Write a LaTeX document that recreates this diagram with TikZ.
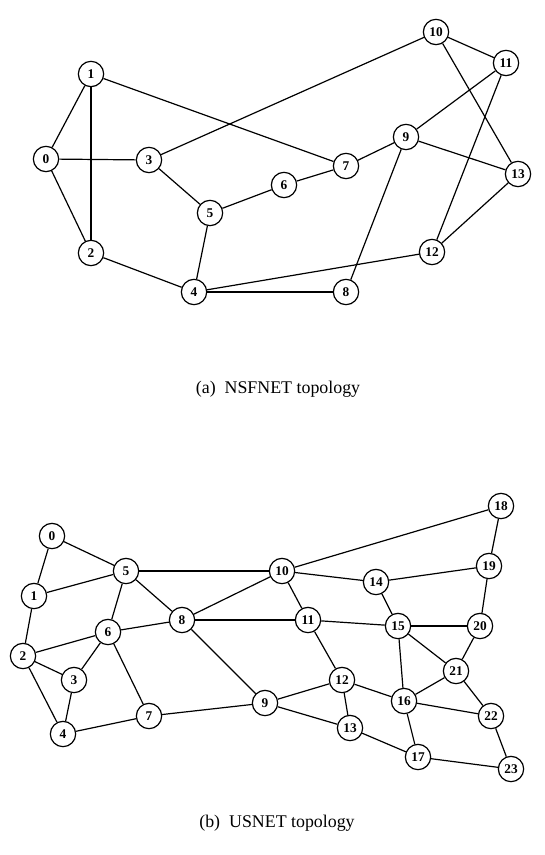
\documentclass[tikz,border=0pt]{standalone}
\usepackage{fontspec}
\setmainfont{Liberation Serif}
\begin{document}
\begin{tikzpicture}[x=0.75pt,y=-0.75pt,
  nd/.style={circle,draw,line width=0.9pt,minimum size=19pt,inner sep=0pt,font=\fontsize{10}{10}\selectfont\bfseries,fill=white},
  lk/.style={line width=0.9pt},
  captxt/.style={font=\fontsize{13.4}{13.4}\selectfont}]
\useasboundingbox (0,0) rectangle (545,855);
% NSFNET
\node[nd] (a0) at (46,159) {0};
\node[nd] (a1) at (91,74) {1};
\node[nd] (a2) at (91,253) {2};
\node[nd] (a3) at (149,160) {3};
\node[nd] (a4) at (194,292) {4};
\node[nd] (a5) at (210,213) {5};
\node[nd] (a6) at (284,185) {6};
\node[nd] (a7) at (346,166) {7};
\node[nd] (a8) at (346,292) {8};
\node[nd] (a9) at (406,137) {9};
\node[nd] (a10) at (436,32) {10};
\node[nd] (a11) at (506,63) {11};
\node[nd] (a12) at (432,252) {12};
\node[nd] (a13) at (518,174) {13};
\foreach \u/\v in {a0/a1,a0/a2,a0/a3,a1/a2,a1/a7,a2/a4,a3/a5,a3/a10,a4/a5,a4/a8,a4/a12,a5/a6,a6/a7,a7/a9,a9/a8,a9/a11,a9/a13,a10/a11,a10/a13,a11/a12,a12/a13}
  \draw[lk] (\u) -- (\v);
\node[captxt] (capa) at (278,389) {(a)\hspace{0.5em}NSFNET topology};
% USNET
\node[nd] (b0) at (52,536) {0};
\node[nd] (b1) at (34,596) {1};
\node[nd] (b2) at (23,656) {2};
\node[nd] (b3) at (74,680) {3};
\node[nd] (b4) at (63,734) {4};
\node[nd] (b5) at (126,571) {5};
\node[nd] (b6) at (108,632) {6};
\node[nd] (b7) at (149,716) {7};
\node[nd] (b8) at (182,620) {8};
\node[nd] (b9) at (265,703) {9};
\node[nd] (b10) at (282,571) {10};
\node[nd] (b11) at (308,620) {11};
\node[nd] (b12) at (342,680) {12};
\node[nd] (b13) at (350,728) {13};
\node[nd] (b14) at (376,582) {14};
\node[nd] (b15) at (398,626) {15};
\node[nd] (b16) at (404,701) {16};
\node[nd] (b17) at (418,757) {17};
\node[nd] (b18) at (501,506) {18};
\node[nd] (b19) at (489,566) {19};
\node[nd] (b20) at (480,626) {20};
\node[nd] (b21) at (456,671) {21};
\node[nd] (b22) at (491,716) {22};
\node[nd] (b23) at (511,769) {23};
\foreach \u/\v in {b0/b1,b0/b5,b1/b5,b1/b2,b2/b6,b2/b3,b2/b4,b3/b6,b3/b4,b4/b7,b5/b6,b5/b8,b5/b10,b6/b8,b6/b7,b7/b9,b8/b10,b8/b11,b8/b9,b9/b12,b9/b13,b10/b18,b10/b14,b10/b11,b11/b15,b11/b12,b12/b16,b12/b13,b13/b17,b14/b19,b14/b15,b15/b20,b15/b21,b15/b16,b16/b21,b16/b22,b16/b17,b17/b23,b18/b19,b19/b20,b20/b21,b21/b22,b22/b23}
  \draw[lk] (\u) -- (\v);
\node[captxt] (capb) at (277,823) {(b)\hspace{0.5em}USNET topology};
\end{tikzpicture}
\end{document}
